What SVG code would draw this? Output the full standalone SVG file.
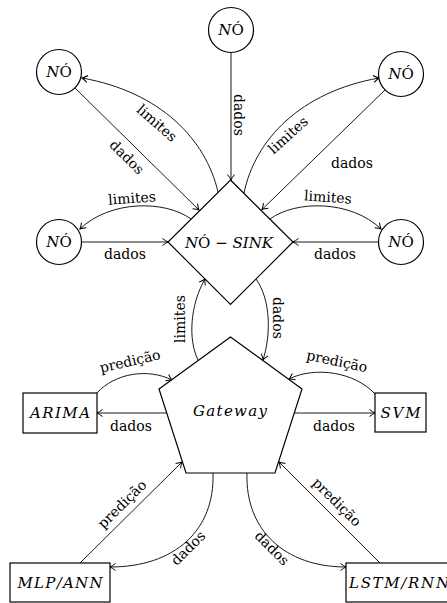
<svg xmlns="http://www.w3.org/2000/svg" width="447" height="603" viewBox="0 0 447 603">
<style>
.shape{fill:#fff;stroke:#000;stroke-width:1.2}
.conn{fill:none;stroke:#000;stroke-width:0.9;marker-end:url(#arr)}
.lbl{font-family:"DejaVu Serif",serif;font-size:14px;text-anchor:middle;fill:#000}
.nd{font-family:"DejaVu Serif",serif;font-size:15px;font-style:italic;text-anchor:middle;fill:#000}
.up{font-style:normal}
</style>
<defs>
<marker id="arr" viewBox="-7 -5 9 10" refX="0" refY="0" markerWidth="9" markerHeight="10" orient="auto" markerUnits="userSpaceOnUse">
<path d="M-5.5,-3.5 Q-2,-0.8 0,0 Q-2,0.8 -5.5,3.5" fill="none" stroke="#000" stroke-width="1"/>
</marker>
</defs>
<rect width="447" height="603" fill="#fff"/>
<g id="connectors">
<path class="conn" d="M231,52.5 L231,180"/>
<path class="conn" d="M75,88 L199,210"/>
<path class="conn" d="M218,192 C206,140 161,92 82,78"/>
<path class="conn" d="M244,193 C255,140 300,92 379,78"/>
<path class="conn" d="M385,90 L262,209.5"/>
<path class="conn" d="M191,219 C165,200 110,200 80,229"/>
<path class="conn" d="M81.5,242 L168,242"/>
<path class="conn" d="M270,219 C296,200 351,200 381,229"/>
<path class="conn" d="M378.5,242 L293,242"/>
<path class="conn" d="M198,360 C188,340 190,305 205,279"/>
<path class="conn" d="M256,279 C271,300 271,335 263,360"/>
<path class="conn" d="M97,393 C115,373 148,368 172,380"/>
<path class="conn" d="M166.5,413 L97,413"/>
<path class="conn" d="M375,394 C355,372 315,366 289,379"/>
<path class="conn" d="M294.3,413 L375,413"/>
<path class="conn" d="M80,563 L182,462"/>
<path class="conn" d="M213,473 C215,530 175,567 110,567"/>
<path class="conn" d="M380,563 L279,462"/>
<path class="conn" d="M247,473 C245,530 285,567 346,567"/>
<text class="lbl" transform="translate(239,115) rotate(90)" y="5">dados</text>
<text class="lbl" transform="translate(127,157) rotate(44.6)" y="5">dados</text>
<text class="lbl" transform="translate(157,123) rotate(41)" y="5">limites</text>
<text class="lbl" transform="translate(288,135) rotate(-42)" y="5">limites</text>
<text class="lbl" x="352" y="168">dados</text>
<text class="lbl" transform="translate(132,198) rotate(-4)" y="5">limites</text>
<text class="lbl" x="125" y="259">dados</text>
<text class="lbl" transform="translate(328,197) rotate(4)" y="5">limites</text>
<text class="lbl" x="335" y="259">dados</text>
<text class="lbl" transform="translate(180,319) rotate(-90)" y="5">limites</text>
<text class="lbl" transform="translate(278,318) rotate(90)" y="5">dados</text>
<text class="lbl" transform="translate(130,361) rotate(-13)" y="5">predição</text>
<text class="lbl" x="131" y="431">dados</text>
<text class="lbl" transform="translate(337,361) rotate(12)" y="5">predição</text>
<text class="lbl" x="334" y="431">dados</text>
<text class="lbl" transform="translate(122,504) rotate(-44.7)" y="5">predição</text>
<text class="lbl" transform="translate(188,548) rotate(-45)" y="5">dados</text>
<text class="lbl" transform="translate(337,502) rotate(44.7)" y="5">predição</text>
<text class="lbl" transform="translate(272,548) rotate(45)" y="5">dados</text>
</g>
<g id="no-top"><circle class="shape" cx="231" cy="30" r="22.5"/><text class="nd" x="231" y="35">N<tspan class="up">Ó</tspan></text></g>
<g id="no-top-left"><circle class="shape" cx="59" cy="72" r="22.5"/><text class="nd" x="59" y="77">N<tspan class="up">Ó</tspan></text></g>
<g id="no-top-right"><circle class="shape" cx="401" cy="74" r="22.5"/><text class="nd" x="401" y="79">N<tspan class="up">Ó</tspan></text></g>
<g id="no-left"><circle class="shape" cx="59" cy="242" r="22.5"/><text class="nd" x="59" y="247">N<tspan class="up">Ó</tspan></text></g>
<g id="no-right"><circle class="shape" cx="401" cy="242" r="22.5"/><text class="nd" x="401" y="247">N<tspan class="up">Ó</tspan></text></g>
<g id="no-sink"><path class="shape" d="M230.5,180 L293,242 L230.5,304.5 L168,242 Z"/><text class="nd" x="229" y="248" textLength="88" lengthAdjust="spacing">N<tspan class="up">Ó</tspan> − SINK</text></g>
<g id="gateway"><path class="shape" d="M230.5,337 L302,389 L275,473 L186,473 L159,389 Z"/><text class="nd" x="230" y="416" textLength="74" lengthAdjust="spacing">Gateway</text></g>
<g id="arima"><rect class="shape" x="23" y="393" width="74" height="40"/><text class="nd" x="60" y="418" textLength="60" lengthAdjust="spacing">ARIMA</text></g>
<g id="svm"><rect class="shape" x="375" y="393" width="51" height="39"/><text class="nd" x="400.5" y="418" textLength="40" lengthAdjust="spacing">SVM</text></g>
<g id="mlp-ann"><rect class="shape" x="10" y="563" width="100" height="39"/><text class="nd" x="60" y="588" textLength="85" lengthAdjust="spacing">MLP/ANN</text></g>
<g id="lstm-rnn"><rect class="shape" x="346" y="563" width="106" height="39"/><text class="nd" x="399" y="588" textLength="100" lengthAdjust="spacing">LSTM/RNN</text></g>
</svg>
